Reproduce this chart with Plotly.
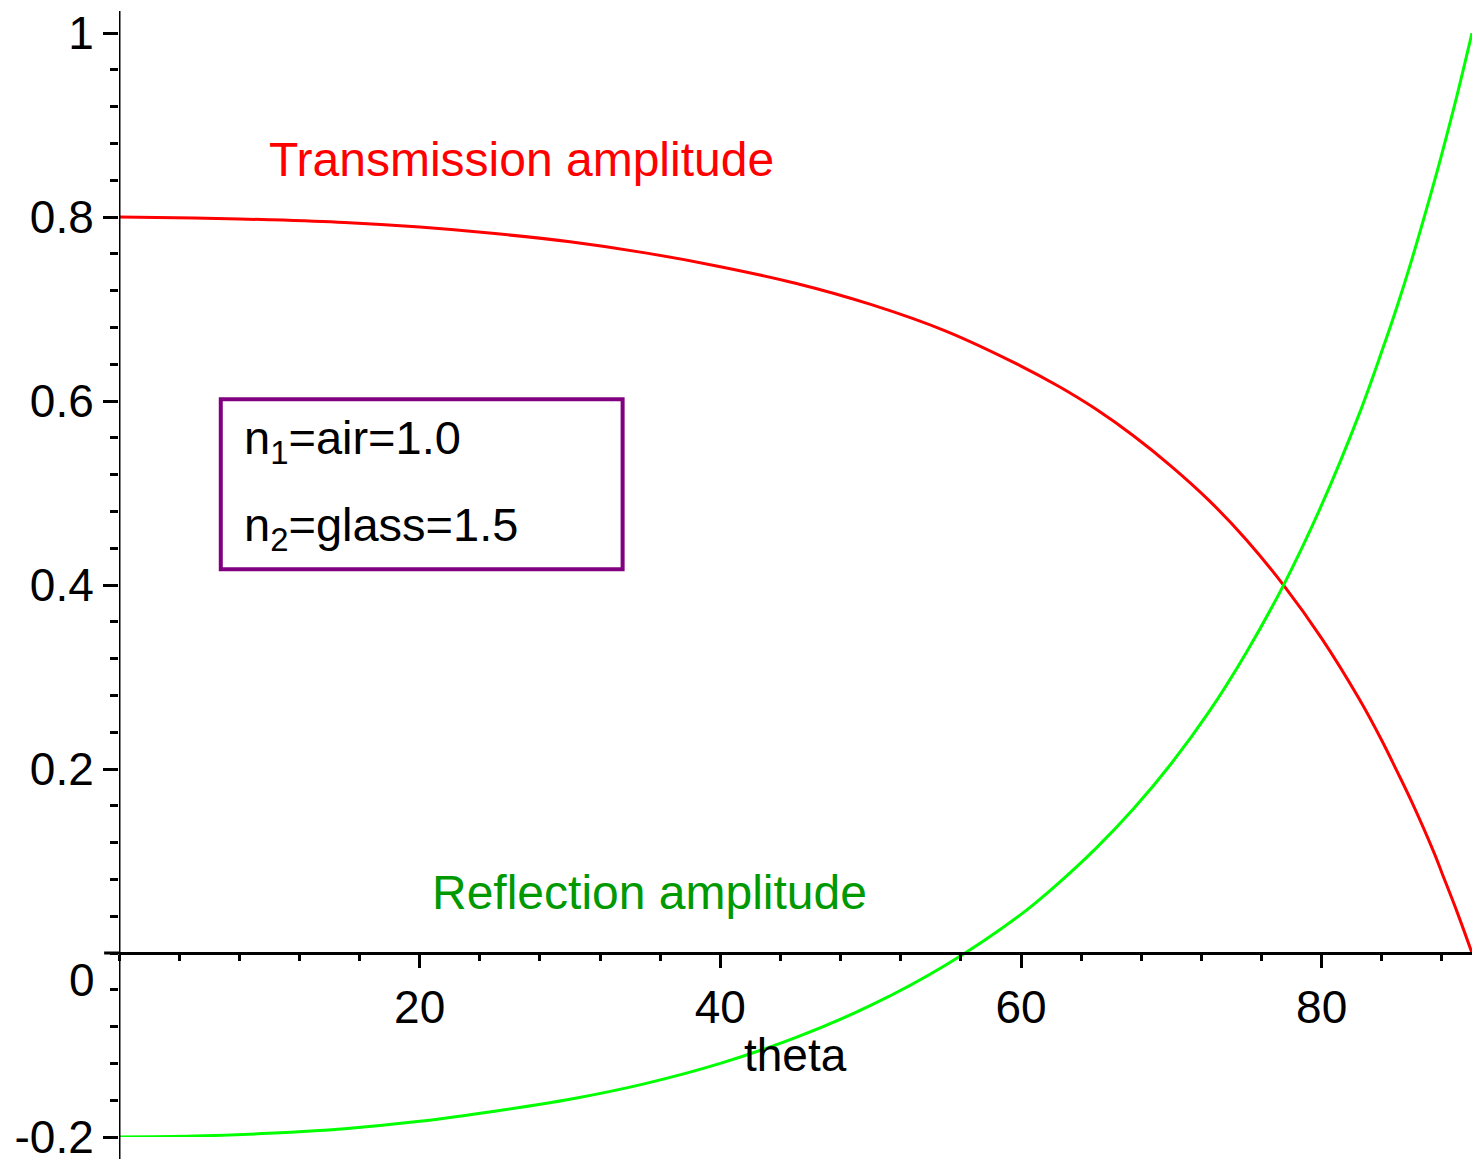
import plotly.graph_objects as go

# angle of incidence (degrees) and amplitudes
theta = [0, 5, 10, 15, 20, 25, 30, 35, 40, 45, 50, 55, 60, 62.5, 65, 67.5, 70, 72.5, 75, 77.5, 80,
         82.5, 84, 85, 86, 87.5, 88, 89, 90]
transmission = [0.800, 0.799, 0.797, 0.794, 0.789, 0.782, 0.773, 0.761, 0.746, 0.728, 0.705, 0.676,
                0.638, 0.616, 0.591, 0.562, 0.529, 0.492, 0.449, 0.399, 0.342, 0.276, 0.231, 0.198,
                0.164, 0.108, 0.087, 0.045, 0.0]
reflection = [-0.200, -0.199, -0.196, -0.191, -0.183, -0.172, -0.159, -0.142, -0.120, -0.092, -0.057,
              -0.013, 0.042, 0.076, 0.114, 0.157, 0.206, 0.262, 0.327, 0.401, 0.487, 0.586, 0.654,
              0.702, 0.754, 0.839, 0.869, 0.932, 1.0]

y_ticks = [-0.2, 0.2, 0.4, 0.6, 0.8, 1]
y_labels = ["-0.2", "0.2", "0.4", "0.6", "0.8", "1"]
x_ticks = [20, 40, 60, 80]

font = "Liberation Sans, Arial, sans-serif"

fig = go.Figure()
fig.add_trace(go.Scatter(x=theta, y=transmission, mode="lines", line=dict(color="#ff0000", width=3, shape="spline"),
                         showlegend=False))
fig.add_trace(go.Scatter(x=theta, y=reflection, mode="lines", line=dict(color="#00ff00", width=3, shape="spline"),
                         showlegend=False))

# vertical axis runs a little past the plot area, as in the Maple output
fig.add_shape(type="line", xref="x", yref="paper", x0=0, x1=0, y0=-0.02, y1=1.02,
              line=dict(color="black", width=3))
# short stub for the zero tick on the vertical axis
fig.add_shape(type="line", xref="paper", yref="y", x0=-0.011, x1=0, y0=0, y1=0,
              line=dict(color="black", width=3))

# legend-ish box
fig.add_shape(type="rect", x0=6.77, x1=33.5, y0=0.417, y1=0.602, line=dict(color="#800080", width=4))

fig.add_annotation(x=8.2, y=0.557, text="n<sub>1</sub>=air=1.0", showarrow=False, xanchor="left",
                   font=dict(family=font, size=47, color="black"))
fig.add_annotation(x=8.2, y=0.462, text="n<sub>2</sub>=glass=1.5", showarrow=False, xanchor="left",
                   font=dict(family=font, size=47, color="black"))
fig.add_annotation(x=26.8, y=0.862, text="Transmission amplitude", showarrow=False,
                   font=dict(family=font, size=48, color="#ff0000"))
fig.add_annotation(x=35.3, y=0.066, text="Reflection amplitude", showarrow=False,
                   font=dict(family=font, size=48, color="#009900"))
fig.add_annotation(x=45, y=-0.111, text="theta", showarrow=False,
                   font=dict(family=font, size=46, color="black"))
fig.add_annotation(x=0, y=0, xshift=-37, yshift=-27, text="0", showarrow=False,
                   font=dict(family=font, size=46, color="black"))

# the page body adds an 8px margin, so the figure is sized to fit inside it
fig.update_layout(
    width=1464, height=1151,
    margin=dict(l=111, r=0, t=25, b=22),
    plot_bgcolor="white", paper_bgcolor="white",
    xaxis=dict(range=[0, 90], anchor="free", position=1 / 6, showgrid=False, zeroline=False,
               automargin=False,
               showline=True, linecolor="black", linewidth=3,
               tickmode="array", tickvals=x_ticks, ticks="outside", ticklen=13, tickwidth=3,
               tickcolor="black", tickfont=dict(family=font, size=46, color="black"),
               minor=dict(dtick=4, tick0=0, ticks="outside", ticklen=6, tickwidth=3, tickcolor="black",
                          showgrid=False)),
    yaxis=dict(range=[-0.2, 1], showgrid=False, zeroline=False, automargin=False,
               showline=False, ticklabeloverflow="allow",
               tickmode="array", tickvals=y_ticks, ticktext=y_labels, ticks="outside", ticklen=15,
               tickwidth=3, tickcolor="black", tickfont=dict(family=font, size=46, color="black"),
               minor=dict(dtick=0.04, tick0=-0.2, ticks="outside", ticklen=8, tickwidth=3,
                          tickcolor="black", showgrid=False)),
)

fig.write_html("out.html")
